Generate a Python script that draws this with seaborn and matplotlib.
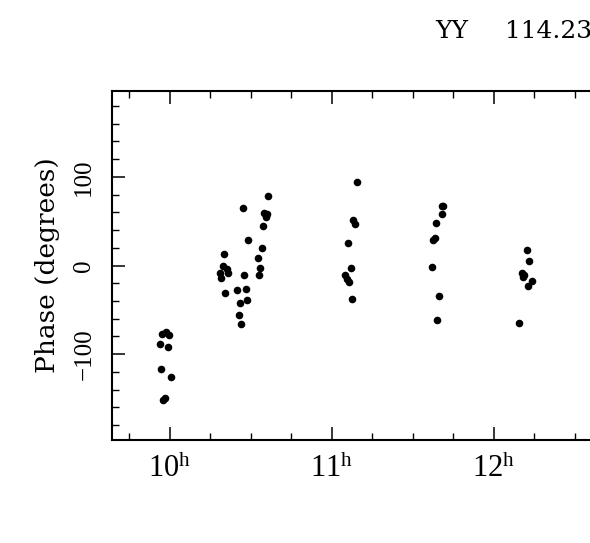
import matplotlib
matplotlib.use("Agg")
import matplotlib.pyplot as plt
from matplotlib.ticker import MultipleLocator, FixedLocator
import seaborn as sns
import pandas as pd

# Data: time (hours) and phase (degrees)
hours = [9.951, 9.977, 9.996, 9.936, 9.988, 9.944, 10.004, 9.959, 9.969,
         10.607, 10.449, 10.582, 10.597, 10.593, 10.574, 10.483, 10.566, 10.333,
         10.541, 10.325, 10.557, 10.350, 10.360, 10.307, 10.315, 10.457, 10.547,
         10.341, 10.414, 10.467, 10.432, 10.477, 10.424, 10.440,
         11.152, 11.131, 11.142, 11.099, 11.115, 11.080, 11.091, 11.107, 11.123,
         11.677, 11.687, 11.677, 11.644, 11.636, 11.626, 11.617, 11.662, 11.650,
         12.202, 12.218, 12.170, 12.185, 12.176, 12.233, 12.212, 12.156]
phase = [-77.7, -74.7, -78.9, -89.0, -91.6, -117.0, -126.3, -151.5, -149.3,
         79.0, 65.4, 59.3, 58.2, 54.8, 45.0, 29.2, 19.4, 13.0,
         8.5, -0.5, -2.4, -4.3, -8.8, -8.5, -14.0, -11.0, -10.3,
         -30.6, -27.3, -26.1, -42.0, -38.6, -56.3, -66.4,
         94.8, 51.0, 47.3, 25.9, -2.8, -11.0, -14.8, -18.6, -38.2,
         66.9, 67.2, 58.6, 48.0, 31.0, 28.5, -1.3, -34.4, -61.2,
         17.2, 5.1, -8.5, -11.0, -13.0, -17.5, -23.2, -65.0]
xtick_hours = [10, 11, 12]
xtick_labels = [r"$10^{\mathrm{h}}$", r"$11^{\mathrm{h}}$", r"$12^{\mathrm{h}}$"]
ytick_vals = [-100, 0, 100]
ytick_labels = ["\u2212100", "0", "100"]
title_pol = "YY"
title_freq = "114.23"

sns.set_style("ticks")
plt.rcParams["font.family"] = ["Liberation Serif", "DejaVu Serif"]
plt.rcParams["mathtext.fontset"] = "custom"
plt.rcParams["mathtext.rm"] = "Liberation Serif"
plt.rcParams["mathtext.it"] = "Liberation Serif:italic"
for k in ["text.color", "axes.labelcolor", "xtick.color", "ytick.color",
          "axes.edgecolor"]:
    plt.rcParams[k] = "black"

df = pd.DataFrame({"hours": hours, "phase": phase})

fig = plt.figure(figsize=(5.9, 5.43), dpi=100)
W, H = 590, 543
x0, x1 = 9.642, 12.7
left_px, top_px, bottom_px = 112, 91, 440
right_px = 170 + (x1 - 10) * 162
ax_w = right_px - left_px
ax = fig.add_axes([left_px / W, 1 - bottom_px / H,
                   ax_w / W, (bottom_px - top_px) / H])

sns.scatterplot(data=df, x="hours", y="phase", ax=ax, color="black",
                s=30, linewidth=0, legend=False)

ax.set_xlim(x0, x1)
ax.set_ylim(-197, 197)

for side in ["left", "bottom", "top"]:
    ax.spines[side].set_linewidth(1.5)
    ax.spines[side].set_color("black")
ax.spines["right"].set_visible(False)

ax.xaxis.set_major_locator(FixedLocator(xtick_hours))
ax.xaxis.set_minor_locator(MultipleLocator(0.25))
ax.yaxis.set_major_locator(FixedLocator(ytick_vals))
ax.yaxis.set_minor_locator(MultipleLocator(20))

ax.tick_params(which="major", direction="in", length=9.5, width=1.1,
               top=True, right=False, color="black")
ax.tick_params(which="minor", direction="in", length=4.8, width=1.0,
               top=True, right=False, color="black")
ax.tick_params(axis="x", which="major", pad=10, labelsize=22)
ax.tick_params(axis="y", which="major", pad=12, labelsize=18,
               labelrotation=90)

ax.set_xticks(xtick_hours, xtick_labels)
ax.set_yticks(ytick_vals, ytick_labels)
for lab in ax.get_yticklabels():
    lab.set_verticalalignment("center")
    lab.set_fontsize(18)
for lab in ax.get_xticklabels():
    lab.set_fontsize(22)

ax.set_xlabel("")
ax.set_ylabel("Phase (degrees)", fontsize=19, family="DejaVu Serif")
ax.yaxis.set_label_coords((60 - left_px) / ax_w, 0.5)

fig.text(435 / W, 1 - 38 / H, title_pol, fontsize=18, ha="left",
         va="baseline", family="DejaVu Serif")
fig.text(505 / W, 1 - 38 / H, title_freq, fontsize=18, ha="left",
         va="baseline", family="DejaVu Serif")

fig.savefig("out.png", dpi=100)
